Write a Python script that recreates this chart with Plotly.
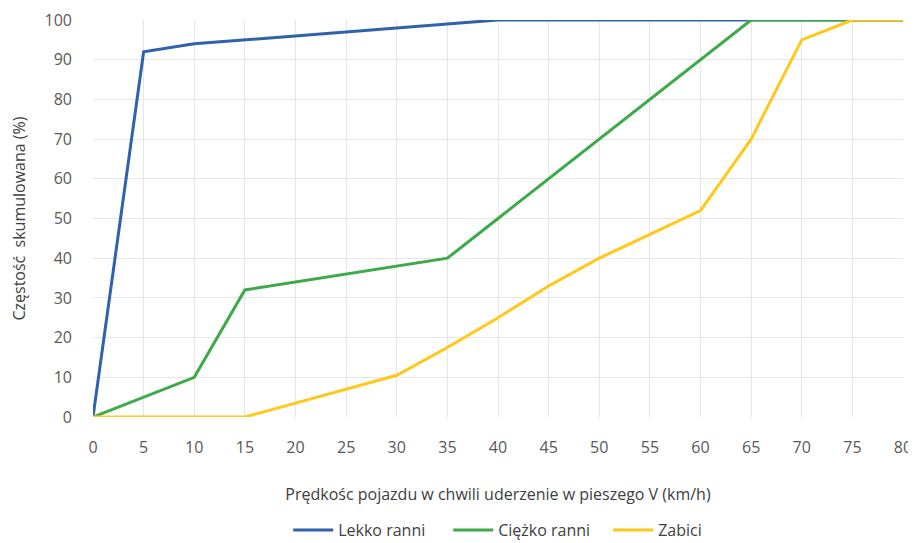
import plotly.graph_objects as go

speed = [0, 5, 10, 15, 20, 25, 30, 35, 40, 45, 50, 55, 60, 65, 70, 75, 80]
lekko = [0, 92, 94, 95, 96, 97, 98, 99, 100, 100, 100, 100, 100, 100, 100, 100, 100]
ciezko = [0, 5, 10, 32, 34, 36, 38, 40, 50, 60, 70, 80, 90, 100, 100, 100, 100]
zabici = [0, 0, 0, 0, 3.5, 7, 10.5, 17.5, 25, 33, 40, 46, 52, 70, 95, 100, 100]

series = [
    ("Lekko ranni", lekko, "#2E62AB"),
    ("Ciężko ranni", ciezko, "#3DAA4A"),
    ("Zabici", zabici, "#FFC81A"),
]

fig = go.Figure()
for name, vals, col in series:
    fig.add_trace(go.Scatter(x=speed, y=vals, mode="lines", name=name,
                             line=dict(color=col, width=3), cliponaxis=False))

font = "Open Sans"
fig.update_layout(
    width=908, height=535,
    margin=dict(l=85, r=13, t=12, b=126, autoexpand=False),
    paper_bgcolor="white", plot_bgcolor="white",
    font=dict(family=font, size=16, color="#595959"),
    showlegend=True,
    legend=dict(orientation="h", x=0.241, xanchor="left", y=-0.285, yanchor="middle",
                font=dict(size=16, color="#404040"), itemwidth=40, traceorder="normal",
                entrywidth=105, entrywidthmode="pixels"),
    xaxis=dict(range=[0, 80], tickmode="array", tickvals=speed,
               ticktext=[str(v) for v in speed], automargin=False,
               showgrid=True, gridcolor="#E6E6E6", gridwidth=1,
               zeroline=False, showline=False, ticks="", ticklabelstandoff=19,
               title=dict(text="Prędkośc pojazdu w chwili uderzenie w pieszego V (km/h)",
                          font=dict(size=16, color="#404040"), standoff=31)),
    yaxis=dict(range=[0, 100], tickmode="array", tickvals=list(range(0, 101, 10)),
               showgrid=True, gridcolor="#E6E6E6", gridwidth=1, automargin=False,
               zeroline=False, showline=False, ticks="", ticklabelstandoff=20,
               title=dict(text="Częstość  skumulowana (%)",
                          font=dict(size=16, color="#404040"), standoff=16)),
)

fig.write_html("out.html")
